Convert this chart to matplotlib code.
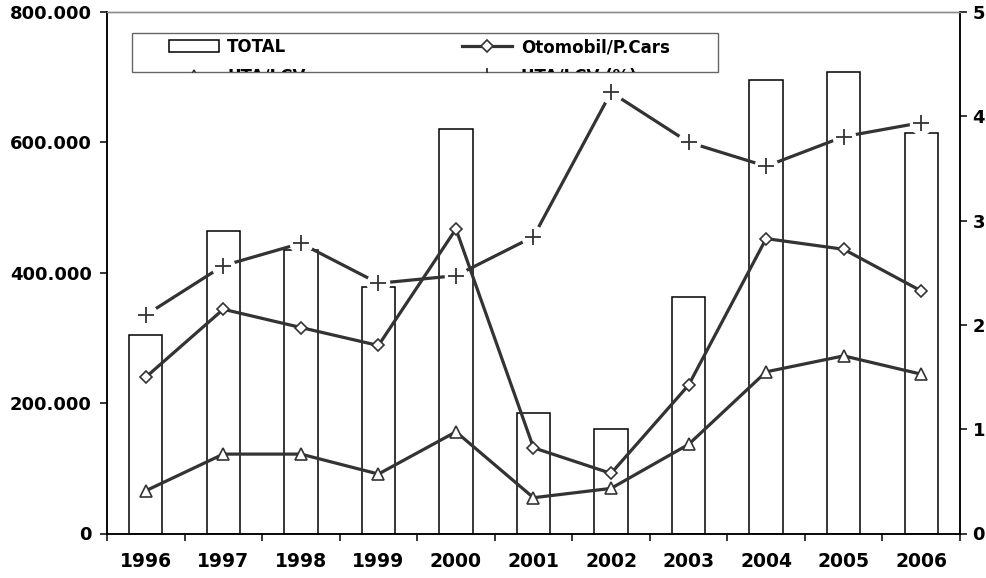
import numpy as np
import matplotlib
matplotlib.use("Agg")
import matplotlib.pyplot as plt
from matplotlib.ticker import FuncFormatter, FixedLocator
from matplotlib.patches import Rectangle
from matplotlib.transforms import Bbox, TransformedBbox

# ---------------- data ----------------
years = ["1996", "1997", "1998", "1999", "2000", "2001",
         "2002", "2003", "2004", "2005", "2006"]
total = [304200, 464100, 435600, 377800, 620000, 184200,
         159700, 362900, 695000, 707700, 614900]
cars = [239800, 344000, 316000, 288400, 467100, 131500,
        92200, 227600, 452400, 436000, 372100]
lcv = [65600, 121800, 121800, 91200, 156000, 54900,
       69200, 136700, 248000, 272500, 244400]
lcv_pct = [2.095, 2.568, 2.782, 2.399, 2.472, 2.846,
           4.230, 3.751, 3.521, 3.805, 3.939]

plt.rcParams["font.family"] = "DejaVu Sans"
plt.rcParams["font.weight"] = "bold"

LINE = "#333333"
W, H = 987, 578

fig = plt.figure(figsize=(W / 100, H / 100), dpi=100)
ax = fig.add_axes([107 / W, 1 - 533.5 / H, 853 / W, 521.5 / H])
ax2 = ax.twinx()

x = np.arange(len(years))

# bars
bars = ax.bar(x, total, width=0.43, facecolor="white", edgecolor="black",
              linewidth=1.1, zorder=2)

# primary lines
l_cars, = ax.plot(x, cars, color=LINE, lw=2.3, marker="D", ms=6.5,
                  mfc="white", mec=LINE, mew=1.2, zorder=4)
l_lcv, = ax.plot(x, lcv, color=LINE, lw=2.3, marker="^", ms=9,
                 mfc="white", mec=LINE, mew=1.2, zorder=4)

# secondary line (plus markers with white halo gap)
ax2.plot(x, lcv_pct, color=LINE, lw=2.3, zorder=3)
ax2.plot(x, lcv_pct, ls="none", marker="o", ms=17, mfc="white",
         mec="none", zorder=4)
ax2.plot(x, lcv_pct, ls="none", marker="+", ms=11, mec=LINE, mew=1.3,
         zorder=5)

# axes scales
ax.set_xlim(-0.5, len(years) - 0.5)
ax.set_ylim(0, 800000)
ax2.set_ylim(0, 5)

ax.set_yticks([0, 200000, 400000, 600000, 800000])
ax.yaxis.set_major_formatter(
    FuncFormatter(lambda v, p: "0" if v == 0 else f"{int(v):,}".replace(",", ".")))
ax2.set_yticks([0, 1, 2, 3, 4, 5])

ax.xaxis.set_major_locator(FixedLocator(np.arange(-0.5, len(years), 1.0)))
ax.xaxis.set_major_formatter(FuncFormatter(lambda v, p: ""))
ax.set_xticks(x, minor=True)
ax.set_xticklabels(years, minor=True)

ax.tick_params(axis="x", which="major", direction="out", length=5, width=1.1)
ax.tick_params(axis="x", which="minor", length=0, pad=13, labelsize=13.5)
ax.tick_params(axis="y", direction="out", length=5, width=1.1, pad=6,
               labelsize=13)
ax2.tick_params(axis="y", direction="out", length=5, width=1.1, pad=4,
                labelsize=13)

for a in (ax, ax2):
    for s in ("left", "right", "bottom"):
        a.spines[s].set_color("black")
        a.spines[s].set_linewidth(1.1)
    a.spines["top"].set_color("#8c8c8c")
    a.spines["top"].set_linewidth(1.0)

# legend (clipped box, as in the original)
hp, = ax2.plot([], [], color=LINE, lw=2.3, marker="+", ms=11, mew=1.3)
handles = [bars, l_lcv, l_cars, hp]
labels = ["TOTAL", "UTA/LCV", "Otomobil/P.Cars", "UTA/LCV (%)"]

bx0, by0, bx1, by1 = 132, 33, 718, 72
frame = Rectangle((bx0 / W, 1 - by1 / H), (bx1 - bx0) / W, (by1 - by0) / H,
                  transform=fig.transFigure, facecolor="white",
                  edgecolor="#666666", lw=1.0, zorder=1)
fig.add_artist(frame)

leg = fig.legend(handles, labels, ncol=2, loc="upper left",
                 bbox_to_anchor=(169 / W, 1 - 38 / H), frameon=False,
                 fontsize=12, handlelength=3.0, handletextpad=0.5,
                 columnspacing=9.4, labelspacing=0.7, borderpad=0,
                 borderaxespad=0)
leg.set_zorder(5)
for t in leg.get_texts():
    t.set_fontweight("bold")
clip = TransformedBbox(Bbox([[bx0 / W, 1 - by1 / H], [bx1 / W, 1 - by0 / H]]),
                       fig.transFigure)
for art in leg.findobj():
    if art is not leg:
        art.set_clip_box(clip)
        art.set_clip_on(True)

fig.savefig("out.png", dpi=100)
